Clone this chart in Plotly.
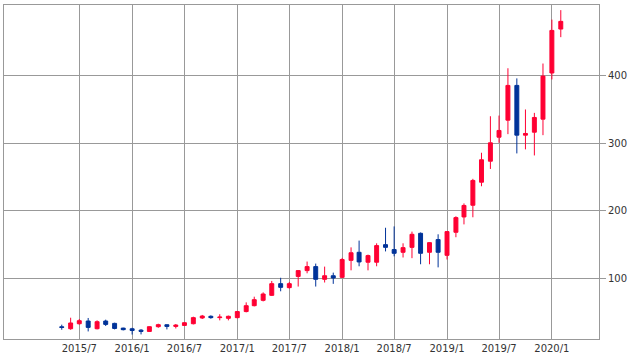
import plotly.graph_objects as go
import pandas as pd

dates = pd.date_range("2015-05-01", "2020-02-01", freq="MS")

opens = [28.5, 25.6, 33, 37, 25.6, 37, 33.5, 26.5, 25.5, 23.5,
         21.6, 28.6, 31.5, 29, 30.5, 33, 41.5, 44, 42, 41,
         42, 51, 59.7, 67.6, 75, 92.3, 86.4, 103, 111.6, 117.5,
         98.7, 104, 101.6, 126.8, 138.7, 124, 124, 150, 142.7, 138.7,
         146, 166.8, 138.7, 157.5, 134.2, 168.3, 191, 208.3, 242.4, 273.5,
         309, 334.2, 385.6, 312, 316.4, 335.7, 404, 469]
highs = [31.6, 41.9, 40, 41.5, 38, 39, 34.5, 27.1, 27, 25,
         29, 33, 32, 32.6, 35.5, 43.4, 46, 45.4, 47, 45,
         52, 64.6, 73, 79.4, 96.3, 101, 94.8, 112, 125, 122,
         117.5, 108.6, 130.4, 146, 156, 135.3, 152, 175, 177, 152,
         169.3, 168, 153.5, 165.3, 170, 192, 211, 247.4, 286, 340,
         341, 411, 396, 350, 345, 418, 483, 497]
lows = [24.1, 24.1, 31.6, 21.6, 24.6, 29.6, 24.6, 23.1, 17, 17.2,
        21, 27, 24.6, 26, 30, 32, 40, 40.4, 38, 38,
        41, 49.8, 58.7, 66, 74, 81, 85, 88, 107.6, 88,
        94, 92, 100.5, 112, 118, 112, 118, 140, 132.7, 131,
        130, 121, 121, 116.4, 128, 161, 180, 190.5, 236.4, 262,
        300.7, 313.5, 285, 291, 282, 312, 394.5, 457]
closes = [27.5, 34.1, 37.5, 27.6, 36, 32, 26, 24.2, 23, 21.6,
          28.6, 31.6, 29, 31, 34.5, 42, 44.4, 42, 42.8, 44,
          51, 59.7, 68.6, 77, 92.3, 86.8, 92.3, 111.6, 117.5, 98.7,
          104, 100.7, 128, 138, 124.4, 133.8, 148.6, 146, 137.2, 145.6,
          165.3, 137.2, 153, 138.7, 169.3, 190, 208, 245, 275.6, 300.7,
          319, 385.6, 312, 314.5, 338.2, 399.4, 467, 480.4]

xtick_vals = ["2015-07-01", "2016-01-01", "2016-07-01", "2017-01-01", "2017-07-01",
              "2018-01-01", "2018-07-01", "2019-01-01", "2019-07-01", "2020-01-01"]
xtick_text = ["2015/7", "2016/1", "2016/7", "2017/1", "2017/7",
              "2018/1", "2018/7", "2019/1", "2019/7", "2020/1"]
ytick_vals = [100, 200, 300, 400]

RED = "#ff0033"
BLUE = "#003399"
GRID = "#999999"

fig = go.Figure(go.Candlestick(
    x=dates, open=opens, high=highs, low=lows, close=closes,
    increasing=dict(line=dict(color=RED, width=1), fillcolor=RED),
    decreasing=dict(line=dict(color=BLUE, width=1), fillcolor=BLUE),
    showlegend=False, hoverinfo="skip",
))

fig.update_layout(
    width=638, height=358,
    margin=dict(l=4, r=39, t=5, b=19),
    paper_bgcolor="white", plot_bgcolor="white",
    font=dict(family="DejaVu Sans", size=10, color="#333333"),
    showlegend=False,
    xaxis=dict(
        type="date", range=["2014-10-12", "2020-06-13"],
        tickmode="array", tickvals=xtick_vals, ticktext=xtick_text,
        showgrid=True, gridcolor=GRID, gridwidth=1,
        showline=True, linecolor=GRID, linewidth=1, mirror=True,
        ticks="", rangeslider=dict(visible=False), zeroline=False,
    ),
    yaxis=dict(
        side="right", range=[10.4, 504.6],
        tickmode="array", tickvals=ytick_vals,
        showgrid=True, gridcolor=GRID, gridwidth=1,
        showline=True, linecolor=GRID, linewidth=1, mirror=True,
        ticks="outside", ticklen=6, tickcolor=GRID, zeroline=False,
    ),
)

fig.write_html("out.html")
